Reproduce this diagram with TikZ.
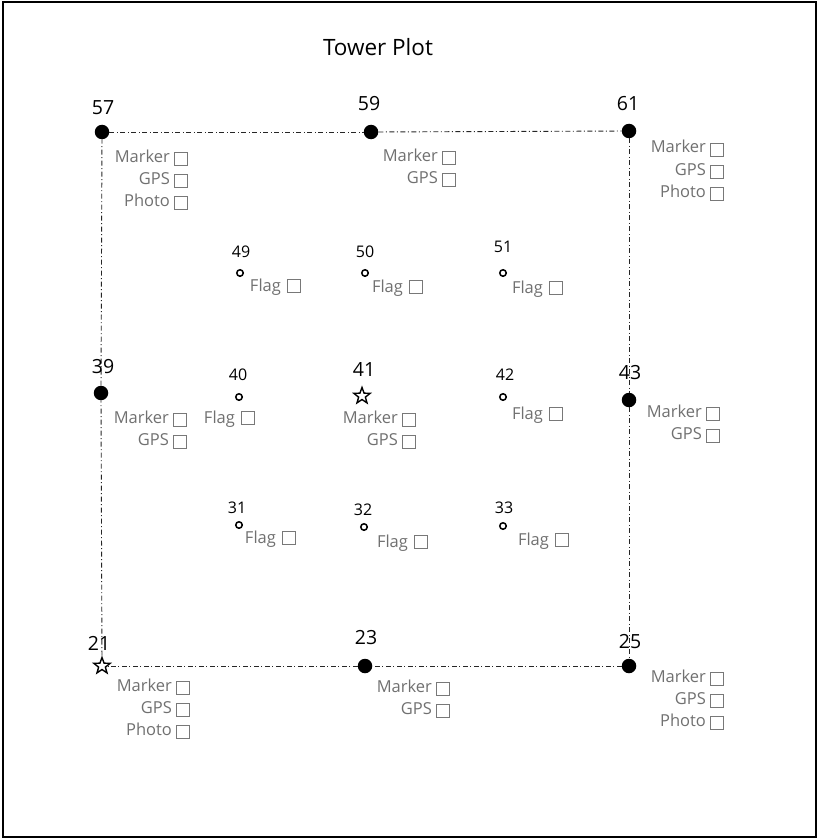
\documentclass[tikz,border=0pt]{standalone}
\usepackage{fontspec}
\setmainfont{Open Sans}
\usetikzlibrary{shapes.geometric}
\definecolor{lbl}{RGB}{112,112,112}
\definecolor{boxc}{RGB}{120,120,120}
\tikzset{
  corner/.style={circle,fill=black,inner sep=0pt,minimum size=14.5pt},
  flagpt/.style={circle,draw=black,line width=1.5pt,inner sep=0pt,minimum size=6.5pt},
  tower/.style={star,star points=5,star point ratio=2.4,draw=black,line width=1.4pt,inner sep=0pt,minimum size=17pt},
  bignum/.style={font=\fontsize{19.5}{22}\selectfont,inner sep=0pt},
  smallnum/.style={font=\fontsize{16}{18}\selectfont,inner sep=0pt},
  glabel/.style={font=\fontsize{16.5}{18}\selectfont,text=lbl,inner sep=0pt},
  cbox/.style={draw=boxc,line width=0.8pt,inner sep=0pt,minimum size=13pt},
  border/.style={line width=0.9pt,draw=black!85,dash pattern=on 5pt off 2.5pt on 1pt off 2.5pt},
}
\newcommand\chkitem[4]{% name, x, y, text (Marker style)
  \node[cbox] (#1) at (#2,#3) {};
  \node[glabel,anchor=base east,xshift=-4pt,yshift=-3pt] (#1t) at (#1.west) {#4};}
\newcommand\flagitem[3]{% name, x, y
  \node[cbox] (#1) at (#2,#3) {};
  \node[glabel,anchor=base east,xshift=-6pt,yshift=-5pt] (#1t) at (#1.west) {Flag};}
\begin{document}
\begin{tikzpicture}[x=1pt,y=-1pt]
\useasboundingbox (0,0) rectangle (817,840);
\draw[line width=2pt] (3,2) rectangle (815.5,837);
\node[font=\fontsize{22.5}{26}\selectfont,inner sep=0pt] (title) at (378,47) {Tower Plot};

% corner / edge markers
\node[corner] (p57) at (102,132) {};
\node[corner] (p59) at (371,132) {};
\node[corner] (p61) at (629,131) {};
\node[corner] (p39) at (101,393) {};
\node[tower]  (p41) at (362,396) {};
\node[corner] (p43) at (629,400) {};
\node[tower]  (p21) at (102,666) {};
\node[corner] (p23) at (365,666) {};
\node[corner] (p25) at (629,666) {};

% boundary
\draw[border] (p57) -- (p59);
\draw[border] (p59) -- (p61);
\draw[border] (p61) -- (p43);
\draw[border] (p43) -- (p25);
\draw[border] (p25) -- (p23);
\draw[border] (p23) -- (p21);
\draw[border] (p21) -- (p39);
\draw[border] (p39) -- (p57);

% big numbers
\node[bignum] (l57) at (103,108) {57};
\node[bignum] (l59) at (369,104) {59};
\node[bignum] (l61) at (628,104) {61};
\node[bignum] (l39) at (103,367) {39};
\node[bignum] (l41) at (364,369) {41};
\node[bignum] (l43) at (630,373) {43};
\node[bignum] (l21) at (99,643) {21};
\node[bignum] (l23) at (366,638) {23};
\node[bignum] (l25) at (630,642) {25};

% flag points
\node[flagpt] (f49) at (240,273) {};
\node[flagpt] (f50) at (365,273) {};
\node[flagpt] (f51) at (503,273) {};
\node[flagpt] (f40) at (239,397) {};
\node[flagpt] (f42) at (503,397) {};
\node[flagpt] (f31) at (239,525) {};
\node[flagpt] (f32) at (364,527) {};
\node[flagpt] (f33) at (503,526) {};

\node[smallnum] (l49) at (241,252) {49};
\node[smallnum] (l50) at (365,252) {50};
\node[smallnum] (l51) at (503,247) {51};
\node[smallnum] (l40) at (238,375) {40};
\node[smallnum] (l42) at (505,375) {42};
\node[smallnum] (l31) at (237,508) {31};
\node[smallnum] (l32) at (363,510) {32};
\node[smallnum] (l33) at (504,508) {33};

\flagitem{b49}{294}{286}
\flagitem{b50}{416}{287}
\flagitem{b51}{556}{288}
\flagitem{b40}{248}{418}
\flagitem{b42}{556}{414}
\flagitem{b31}{289}{538}
\flagitem{b32}{421}{542}
\flagitem{b33}{562}{540}

% checklists
\chkitem{m57}{181}{159}{Marker}
\chkitem{g57}{181}{181}{GPS}
\chkitem{h57}{181}{203}{Photo}
\chkitem{m59}{449}{158}{Marker}
\chkitem{g59}{449}{180}{GPS}
\chkitem{m61}{717}{150}{Marker}
\chkitem{g61}{717}{172}{GPS}
\chkitem{h61}{717}{194}{Photo}
\chkitem{m39}{180}{420}{Marker}
\chkitem{g39}{180}{442}{GPS}
\chkitem{m41}{409}{420}{Marker}
\chkitem{g41}{409}{442}{GPS}
\chkitem{m43}{713}{414}{Marker}
\chkitem{g43}{713}{436}{GPS}
\chkitem{m21}{183}{688}{Marker}
\chkitem{g21}{183}{710}{GPS}
\chkitem{h21}{183}{732}{Photo}
\chkitem{m23}{443}{689}{Marker}
\chkitem{g23}{443}{711}{GPS}
\chkitem{m25}{717}{679}{Marker}
\chkitem{g25}{717}{701}{GPS}
\chkitem{h25}{717}{723}{Photo}
\end{tikzpicture}
\end{document}
